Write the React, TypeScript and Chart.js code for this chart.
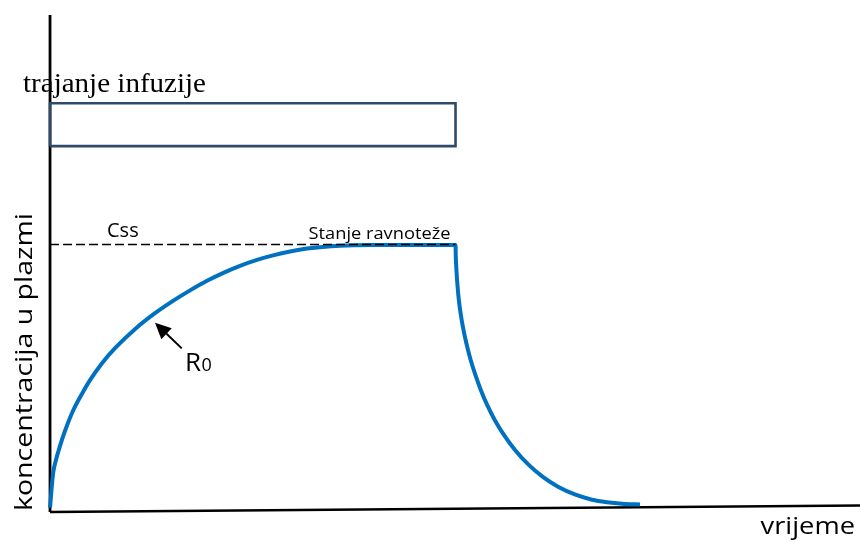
import React, { useEffect, useRef } from 'react';
import { Chart, registerables } from 'chart.js';

Chart.register(...registerables);

// ---- data (time in arbitrary units, concentration in % of Css) ----
const T_RISE = [0, 0.074, 0.148, 0.247, 0.37, 0.567, 0.789, 0.986, 1.282, 1.603, 2.121, 2.589, 3.033, 3.453, 3.872, 4.316, 4.686, 5.105, 5.499, 5.919, 6.338, 7.152, 8.138, 10];
const C_RISE = [0.75, 13.51, 18.77, 24.04, 29.68, 37.21, 43.64, 48.72, 55.11, 60.76, 68.28, 73.93, 78.56, 82.51, 86.12, 89.39, 91.76, 93.98, 95.67, 97.14, 98.23, 99.29, 99.55, 99.59];
const T_DROP = [10.005, 10.022, 10.047, 10.081, 10.131, 10.195, 10.276, 10.372, 10.488, 10.621, 10.777, 10.964, 11.189, 11.462, 11.8, 12.145, 12.528, 12.959, 13.366, 13.736, 14.106, 14.55];
const C_DROP = [95.94, 90.29, 84.65, 79.01, 73.36, 67.72, 62.08, 56.43, 50.79, 45.15, 39.5, 33.86, 28.22, 22.57, 16.93, 12.42, 8.65, 5.64, 3.76, 2.82, 2.26, 1.99];

const INFUSION_START = 0;
const INFUSION_END = 10;
const CSS_LEVEL = 99.8;
const BOX_LOW = 136.8;
const BOX_HIGH = 152.9;

const X_MIN = -0.05;
const X_MAX = 19.975;
const Y_MIN = -2;
const Y_MAX = 188;
const AXIS_BASE = -0.87;
const AXIS_Y_TOP = 186.1;
const AXIS_X_END_Y = 1.58;

const ARROW_TAIL = [3.248, 60.7];
const ARROW_TIP = [2.589, 70.35];

const LABEL_BOX = 'trajanje infuzije';
const LABEL_CSS = 'Css';
const LABEL_SS = 'Stanje ravnoteže';
const LABEL_R = 'R';
const LABEL_R_SUB = '0';
const LABEL_X = 'vrijeme';
const LABEL_Y = 'koncentracija u plazmi';

const SANS = '"Open Sans", "Noto Sans", sans-serif';
const SERIF = '"Liberation Serif", "DejaVu Serif", serif';

function fitText(ctx: CanvasRenderingContext2D, text: string, x: number, y: number, font: string, width: number) {
  ctx.font = font;
  const w = ctx.measureText(text).width;
  ctx.save();
  ctx.translate(x, y);
  ctx.scale(width / w, 1);
  ctx.fillText(text, 0, 0);
  ctx.restore();
}

const annotations = {
  id: 'annotations',
  afterDraw(chart: any) {
    const ctx: CanvasRenderingContext2D = chart.ctx;
    const xs = chart.scales.x;
    const ys = chart.scales.y;
    ctx.save();
    ctx.fillStyle = '#000';
    ctx.textAlign = 'left';
    ctx.textBaseline = 'alphabetic';

    // arrow
    const tx = xs.getPixelForValue(ARROW_TAIL[0]);
    const ty = ys.getPixelForValue(ARROW_TAIL[1]);
    const px = xs.getPixelForValue(ARROW_TIP[0]);
    const py = ys.getPixelForValue(ARROW_TIP[1]);
    const ang = Math.atan2(py - ty, px - tx);
    const headLen = 16;
    const headW = 7.5;
    const bx = px - headLen * Math.cos(ang);
    const by = py - headLen * Math.sin(ang);
    ctx.strokeStyle = '#000';
    ctx.lineWidth = 2;
    ctx.beginPath();
    ctx.moveTo(tx, ty);
    ctx.lineTo(bx, by);
    ctx.stroke();
    ctx.beginPath();
    ctx.moveTo(px, py);
    ctx.lineTo(bx + headW * Math.sin(ang), by - headW * Math.cos(ang));
    ctx.lineTo(bx - headW * Math.sin(ang), by + headW * Math.cos(ang));
    ctx.closePath();
    ctx.fill();

    // texts
    fitText(ctx, LABEL_BOX, 23, 91.5, `27px ${SERIF}`, 183);
    ctx.font = `20px ${SANS}`;
    ctx.fillText(LABEL_CSS, 107, 237);
    fitText(ctx, LABEL_SS, 308.5, 238.5, `17px ${SANS}`, 142);
    ctx.font = `26px ${SANS}`;
    ctx.fillText(LABEL_R, 185, 371);
    const rw = ctx.measureText(LABEL_R).width;
    ctx.font = `18px ${SANS}`;
    ctx.fillText(LABEL_R_SUB, 185 + rw + 0.5, 371);
    fitText(ctx, LABEL_X, 760.5, 534.3, `24px ${SANS}`, 94.5);

    ctx.save();
    ctx.translate(32, 362);
    ctx.rotate(-Math.PI / 2);
    ctx.font = `24px ${SANS}`;
    const lw = ctx.measureText(LABEL_Y).width;
    ctx.scale(298 / lw, 1);
    ctx.textAlign = 'center';
    ctx.fillText(LABEL_Y, 0, 0);
    ctx.restore();

    ctx.restore();
  },
};

export default function App() {
  const ref = useRef<HTMLCanvasElement | null>(null);

  useEffect(() => {
    document.body.style.margin = '0';
    const curve = [
      ...T_RISE.map((t, i) => ({ x: t, y: C_RISE[i] })),
      ...T_DROP.map((t, i) => ({ x: t, y: C_DROP[i] })),
    ];
    const chart = new Chart(ref.current as HTMLCanvasElement, {
      type: 'line',
      data: {
        datasets: [
          {
            label: 'css',
            data: [
              { x: INFUSION_START, y: CSS_LEVEL },
              { x: INFUSION_END, y: CSS_LEVEL },
            ],
            borderColor: '#000',
            borderWidth: 1.6,
            borderDash: [9, 4],
            pointRadius: 0,
            order: 0,
          },
          {
            label: 'koncentracija',
            data: curve,
            borderColor: '#0070C0',
            borderWidth: 4,
            cubicInterpolationMode: 'monotone',
            pointRadius: 0,
            borderCapStyle: 'butt',
            order: 1,
          },
          {
            label: 'infuzija',
            data: [
              { x: INFUSION_START, y: BOX_LOW },
              { x: INFUSION_END, y: BOX_LOW },
              { x: INFUSION_END, y: BOX_HIGH },
              { x: INFUSION_START, y: BOX_HIGH },
              { x: INFUSION_START, y: BOX_LOW },
            ],
            borderColor: '#2E4A69',
            borderWidth: 2.6,
            borderJoinStyle: 'miter',
            pointRadius: 0,
            order: 2,
          },
          {
            label: 'y-os',
            data: [
              { x: INFUSION_START, y: AXIS_BASE },
              { x: INFUSION_START, y: AXIS_Y_TOP },
            ],
            borderColor: '#000',
            borderWidth: 2.8,
            pointRadius: 0,
            order: 3,
          },
          {
            label: 'x-os',
            data: [
              { x: INFUSION_START, y: AXIS_BASE },
              { x: X_MAX, y: AXIS_X_END_Y },
            ],
            borderColor: '#000',
            borderWidth: 2.6,
            pointRadius: 0,
            order: 3,
          },
        ],
      },
      options: {
        responsive: false,
        animation: false,
        parsing: false,
        layout: { padding: { left: 48, top: 10, right: 0, bottom: 25 } },
        plugins: { legend: { display: false }, tooltip: { enabled: false } },
        scales: {
          x: { type: 'linear', min: X_MIN, max: X_MAX, display: false },
          y: { type: 'linear', min: Y_MIN, max: Y_MAX, display: false },
        },
      },
      plugins: [annotations],
    });
    return () => chart.destroy();
  }, []);

  return (
    <div style={{ position: 'fixed', left: 0, top: 0, width: 860, height: 540, background: '#fff' }}>
      <canvas ref={ref} width={860} height={540} />
    </div>
  );
}
